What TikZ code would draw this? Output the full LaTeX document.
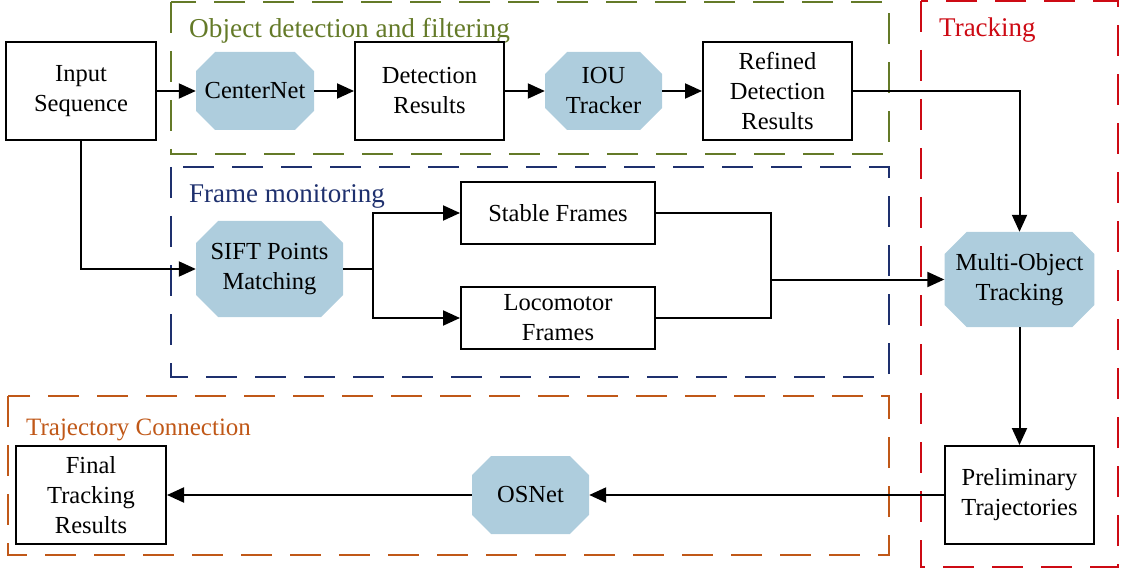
\documentclass[tikz,border=0pt]{standalone}
\usepackage{fontspec}
\setmainfont{Liberation Serif}
\usetikzlibrary{arrows.meta,shapes.misc,calc}
\definecolor{cOlive}{RGB}{100,122,40}
\definecolor{cNavy}{RGB}{30,48,110}
\definecolor{cRed}{RGB}{205,10,20}
\definecolor{cOrange}{RGB}{192,88,24}
\definecolor{cFill}{RGB}{174,205,221}
\begin{document}
\begin{tikzpicture}[x=1pt,y=-1pt,
  every node/.style={font=\rmfamily\fontsize{24.5}{30}\selectfont, align=center, inner sep=0pt},
  boxnode/.style={draw, line width=2pt, rectangle},
  octnode/.style={chamfered rectangle, chamfered rectangle xsep=11pt, chamfered rectangle ysep=11pt, fill=cFill, draw=none},
  conn/.style={line width=2pt, -{Triangle[length=17pt,width=15pt]}},
  line/.style={line width=2pt},
  grp/.style={dashed, line width=2pt, dash pattern=on 31pt off 18pt},
  ttl/.style={anchor=base west}
]
\useasboundingbox (0,0) rectangle (1121,569);

% groups
\draw[grp, draw=cOlive] (171,2) rectangle (889,154);
\draw[grp, draw=cNavy] (171,167) rectangle (889,377);
\draw[grp, draw=cRed] (921,1) rectangle (1118,567);
\draw[grp, draw=cOrange] (8,396) rectangle (889,555);

\node[ttl, text=cOlive, font=\rmfamily\fontsize{27.3}{30}\selectfont] (t1) at (189,38) {Object detection and filtering};
\node[ttl, text=cNavy, font=\rmfamily\fontsize{27}{30}\selectfont] (t2) at (189,203) {Frame monitoring};
\node[ttl, text=cRed, font=\rmfamily\fontsize{27}{30}\selectfont] (t3) at (939,37) {Tracking};
\node[ttl, text=cOrange, font=\rmfamily\fontsize{25}{30}\selectfont] (t4) at (26,435) {Trajectory Connection};

% nodes
\node[boxnode, minimum width=150pt, minimum height=98pt] (in) at (81,91) {Input\\Sequence};
\node[octnode, minimum width=118pt, minimum height=78pt] (cn) at (255,91) {CenterNet};
\node[boxnode, minimum width=149pt, minimum height=98pt] (det) at (429.5,91) {Detection\\Results};
\node[octnode, minimum width=117pt, minimum height=78pt] (iou) at (603.5,91) {IOU\\Tracker};
\node[boxnode, minimum width=149pt, minimum height=98pt] (ref) at (777.5,91) {Refined\\Detection\\Results};
\node[octnode, minimum width=147pt, minimum height=96pt] (sift) at (269.5,269) {SIFT Points\\Matching};
\node[boxnode, minimum width=194pt, minimum height=62pt] (stab) at (558,213) {Stable Frames};
\node[boxnode, minimum width=194pt, minimum height=62pt] (loco) at (558,318) {Locomotor\\Frames};
\node[octnode, minimum width=147pt, minimum height=95pt] (mot) at (1019.5,279.5) {Multi-Object\\Tracking};
\node[boxnode, minimum width=149pt, minimum height=98pt] (prel) at (1019.5,495) {Preliminary\\Trajectories};
\node[octnode, minimum width=117pt, minimum height=78pt] (osn) at (530.5,495) {OSNet};
\node[boxnode, minimum width=150pt, minimum height=98pt] (fin) at (91,495) {Final\\Tracking\\Results};

\coordinate (br) at (373,269);
\coordinate (mg) at (771,279.5);

% connectors
\draw[conn] (in.east) -- (cn.west);
\draw[conn] (cn.east) -- (det.west);
\draw[conn] (det.east) -- (iou.west);
\draw[conn] (iou.east) -- (ref.west);
\draw[conn] (ref.east) -| (mot.north);
\draw[conn] (in.south) |- (sift.west);
\draw[line] (sift.east) -- (br);
\draw[conn] (br) |- (stab.west);
\draw[conn] (br) |- (loco.west);
\draw[line] (stab.east) -| (mg);
\draw[line] (loco.east) -| (mg);
\draw[conn] (mg) -- (mot.west);
\draw[conn] (mot.south) -- (prel.north);
\draw[conn] (prel.west) -- (osn.east);
\draw[conn] (osn.west) -- (fin.east);
\end{tikzpicture}
\end{document}
